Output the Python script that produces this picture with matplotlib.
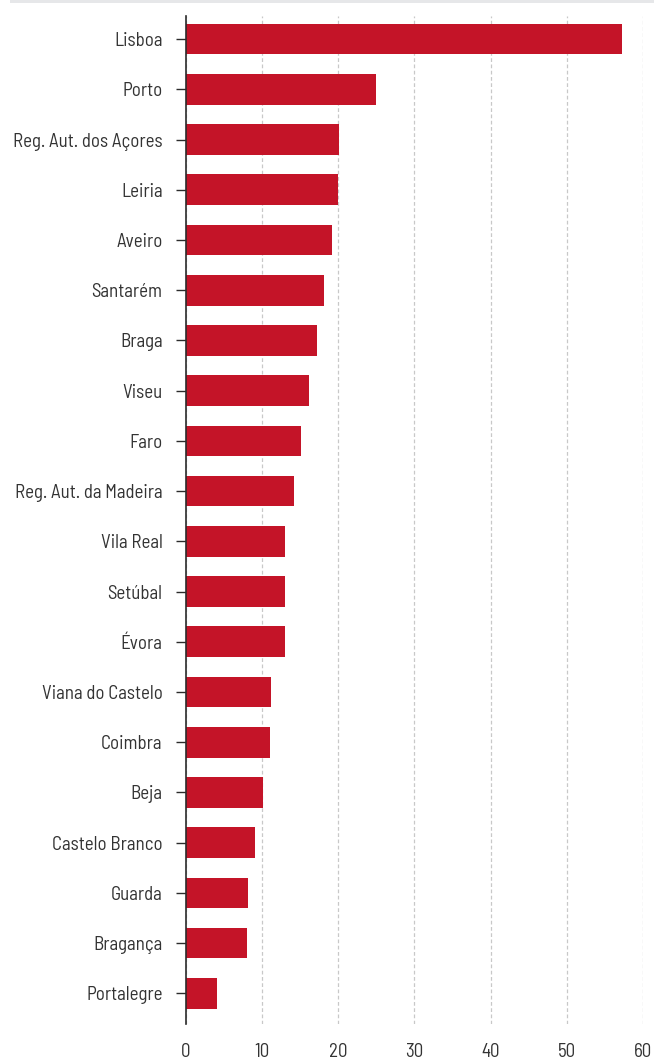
import matplotlib
matplotlib.use("Agg")
import matplotlib.pyplot as plt
from matplotlib.patches import Rectangle

regions = ["Lisboa", "Porto", "Reg. Aut. dos Açores", "Leiria", "Aveiro", "Santarém",
           "Braga", "Viseu", "Faro", "Reg. Aut. da Madeira", "Vila Real", "Setúbal",
           "Évora", "Viana do Castelo", "Coimbra", "Beja", "Castelo Branco", "Guarda",
           "Bragança", "Portalegre"]
values = [57.2, 25.0, 20.1, 20.0, 19.2, 18.1, 17.2, 16.2, 15.1, 14.2, 13.0, 13.0,
          13.0, 11.2, 11.1, 10.1, 9.1, 8.2, 8.1, 4.1]
x_ticks = [0, 10, 20, 30, 40, 50, 60]

plt.rcParams['font.family'] = ['Barlow Semi Condensed', 'DejaVu Sans']

W, H = 654, 1060
fig = plt.figure(figsize=(W / 100, H / 100), dpi=100)

# thin grey band along the top edge
fig.patches.append(Rectangle((10 / W, 1 - 3 / H), 1, 3 / H, transform=fig.transFigure,
                             facecolor="#e6e7e9", edgecolor="none"))

ax = fig.add_axes([185.5 / W, 1 - 1024 / H, (643.3 - 185.5) / W, (1024 - 16) / H])
pos = list(range(len(regions)))
ax.barh(pos, values, height=0.61, color="#c41428", zorder=3)

ax.set_xlim(0, 60)
ax.set_ylim(len(regions) - 1 + 0.61, -0.46)
ax.set_xticks(x_ticks)
ax.set_xticklabels([str(t) for t in x_ticks])
ax.set_yticks(pos)
ax.set_yticklabels(regions)

for s in ["top", "right", "bottom"]:
    ax.spines[s].set_visible(False)
ax.spines["left"].set_color("#2b2b2b")
ax.spines["left"].set_linewidth(1.2)
ax.spines["left"].set_zorder(4)

ax.tick_params(axis="y", length=7.5, width=1.0, color="#2b2b2b", pad=9,
               labelsize=13.6, labelcolor="#333333")
ax.tick_params(axis="x", length=0, pad=14, labelsize=13.6, labelcolor="#333333")

ax.grid(axis="x", color="#c8c8c8", linestyle=(0, (3, 2)), linewidth=0.9, zorder=0)
ax.grid(axis="y", visible=False)

fig.savefig("out.png", dpi=100)
